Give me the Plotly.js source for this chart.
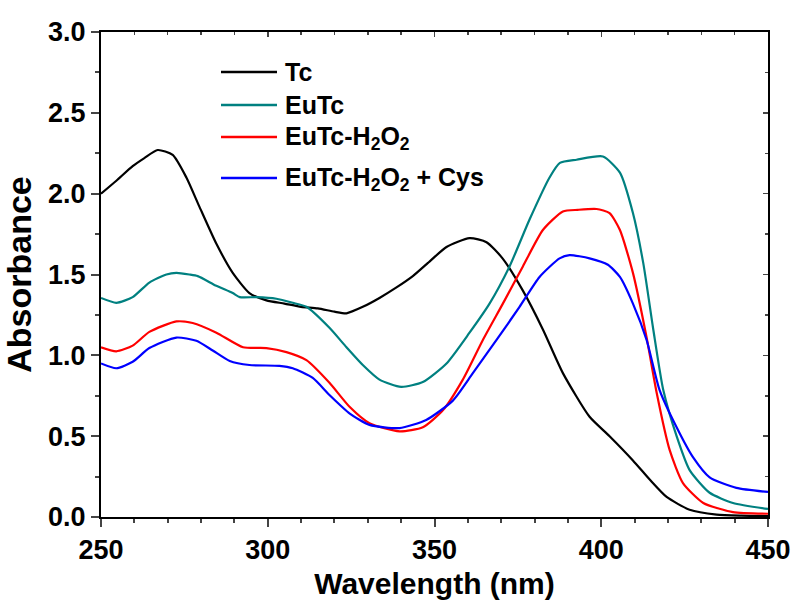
<!DOCTYPE html>
<html>
<head>
<meta charset="utf-8">
<script src="https://cdn.plot.ly/plotly-3.0.1.min.js"></script>
<style>html,body{margin:0;padding:0;background:#fff;}#chart{width:793px;height:610px;}</style>
</head>
<body>
<div id="chart"></div>
<script>
const seriesNames = ["Tc", "EuTc", "EuTc-H<sub>2</sub>O<sub>2</sub>", "EuTc-H<sub>2</sub>O<sub>2</sub> + Cys"];
const seriesColors = ["#000000", "#008080", "#ff0000", "#0000ff"];

const tcWl = [250,254.6,259.5,263,267,271.5,275.6,279.5,284.6,289.5,294.5,299.6,305,310,315,320,323.6,328.5,333.5,338.6,343.5,348.5,353.6,360.5,365.6,370.4,376.5,382.5,388.5,396.5,402.5,409.5,414.6,419.6,426.5,434.6,442,450];
const tcAbs = [2.00,2.08,2.17,2.22,2.27,2.24,2.10,1.92,1.69,1.51,1.385,1.34,1.32,1.30,1.29,1.27,1.26,1.30,1.355,1.42,1.49,1.58,1.67,1.725,1.70,1.60,1.40,1.16,0.89,0.62,0.50,0.35,0.23,0.124,0.045,0.015,0.008,0.005];

const euWl = [250,254.6,259.5,264.5,269.6,272.6,276.5,279,284.6,289.5,291.6,296.6,302.6,307.5,311.6,318.5,323.6,328.5,333.5,340,346.5,353.6,360.5,366.5,372.5,378.5,384.5,387.6,392.6,400.5,405.6,409.5,412.6,415.6,418.6,422.6,426.5,432.5,439.5,450];
const euAbs = [1.355,1.325,1.36,1.45,1.50,1.51,1.50,1.49,1.43,1.385,1.36,1.36,1.35,1.325,1.30,1.17,1.05,0.94,0.85,0.805,0.835,0.95,1.14,1.32,1.55,1.84,2.10,2.19,2.21,2.23,2.13,1.88,1.57,1.16,0.785,0.50,0.29,0.15,0.087,0.05];

const h2o2Wl = [250,254.6,259.5,264.5,272.6,277.5,284.6,292.6,299.6,305.6,311.6,318.5,324.6,330.5,339.5,346.5,352.5,358.5,364.5,370.5,376.5,382.5,388.5,393,398.6,402.5,405.6,409.5,413.6,416.6,420.5,424.5,430.6,439.5,450];
const h2o2Abs = [1.05,1.025,1.06,1.145,1.21,1.20,1.14,1.05,1.045,1.02,0.97,0.83,0.68,0.58,0.53,0.555,0.66,0.85,1.095,1.32,1.55,1.775,1.89,1.90,1.905,1.88,1.775,1.51,1.11,0.77,0.415,0.21,0.087,0.03,0.02];

const cysWl = [250,254.6,259.5,264.5,272.6,278.6,283.5,288.6,294.5,303.5,307.5,313.5,318.5,324.6,330.5,339.5,347.5,355.5,361.5,368.6,375.5,381.5,387.5,390.5,396.5,402,405.6,409.5,413.6,417.5,422.6,427.5,432.5,440.5,450];
const cysAbs = [0.95,0.92,0.96,1.045,1.11,1.09,1.03,0.965,0.94,0.935,0.92,0.86,0.755,0.64,0.57,0.55,0.60,0.72,0.89,1.095,1.30,1.485,1.60,1.62,1.60,1.56,1.485,1.32,1.095,0.785,0.555,0.37,0.245,0.18,0.155];

const xTickVals = [250, 300, 350, 400, 450];
const yTickVals = [0, 0.5, 1.0, 1.5, 2.0, 2.5, 3.0];

const allX = [tcWl, euWl, h2o2Wl, cysWl];
const allY = [tcAbs, euAbs, h2o2Abs, cysAbs];

const FONT = "Liberation Sans, Arial, sans-serif";

const traces = allX.map((xs, i) => ({
  x: xs, y: allY[i], name: seriesNames[i], type: "scatter", mode: "lines",
  line: {color: seriesColors[i], width: 2.2, shape: "spline", smoothing: 0.6},
  hoverinfo: "skip", showlegend: false
}));
traces.push({x: [null], y: [null], xaxis: "x2", yaxis: "y2", showlegend: false, hoverinfo: "skip", mode: "lines"});

// hand-placed legend (plot-area pixels -> paper fractions)
const plotL = 101, plotR = 768, plotT = 32, plotB = 517;
const px = v => (v - plotL) / (plotR - plotL);
const py = v => (plotB - v) / (plotB - plotT);
const legendRowsPx = [72, 105, 137, 178];
const legendShift = [0, 0, -1, -1];
const shapes = [], annotations = [];
seriesNames.forEach((name, i) => {
  shapes.push({type: "line", xref: "paper", yref: "paper", x0: px(221), x1: px(277),
    y0: py(legendRowsPx[i]), y1: py(legendRowsPx[i]), line: {color: seriesColors[i], width: 2.5}});
  annotations.push({xref: "paper", yref: "paper", x: px(283), y: py(legendRowsPx[i]),
    xanchor: "left", yanchor: "middle", yshift: legendShift[i], showarrow: false, text: name,
    font: {family: FONT, size: 25, color: "#000", weight: "bold"}});
});

const layout = {
  width: 793, height: 610,
  margin: {l: 101, r: 25, t: 32, b: 93},
  paper_bgcolor: "#fff", plot_bgcolor: "#fff",
  font: {family: FONT, color: "#000"},
  showlegend: false,
  shapes: shapes,
  annotations: annotations,
  xaxis: {
    range: [250, 450], tickvals: xTickVals, ticks: "outside", ticklen: 8, tickwidth: 2,
    minor: {dtick: 10, ticks: "outside", ticklen: 4, tickwidth: 2, showgrid: false},
    showline: true, linewidth: 2, linecolor: "#000", showgrid: false, zeroline: false,
    tickfont: {family: FONT, size: 27, weight: "bold"},
    title: {text: "Wavelength (nm)", font: {family: FONT, size: 30, weight: "bold"}, standoff: 9}
  },
  yaxis: {
    range: [0, 3], tickvals: yTickVals, tickformat: ".1f", ticks: "outside", ticklen: 8, tickwidth: 2,
    minor: {dtick: 0.25, ticks: "outside", ticklen: 4, tickwidth: 2, showgrid: false},
    showline: true, linewidth: 2, linecolor: "#000", showgrid: false, zeroline: false,
    tickfont: {family: FONT, size: 27, weight: "bold"},
    title: {text: "Absorbance", font: {family: FONT, size: 34, weight: "bold"}, standoff: 8}
  },
  xaxis2: {
    overlaying: "x", side: "top", range: [250, 450], tickvals: xTickVals, ticks: "inside", ticklen: 5, tickwidth: 1.5,
    minor: {dtick: 10, ticks: "inside", ticklen: 3, tickwidth: 1.5},
    showticklabels: false, showline: true, linewidth: 2, linecolor: "#000", showgrid: false, zeroline: false
  },
  yaxis2: {
    overlaying: "y", side: "right", range: [0, 3], tickvals: yTickVals, ticks: "inside", ticklen: 5, tickwidth: 1.5,
    minor: {dtick: 0.25, ticks: "inside", ticklen: 3, tickwidth: 1.5},
    showticklabels: false, showline: true, linewidth: 2, linecolor: "#000", showgrid: false, zeroline: false
  }
};

Plotly.newPlot("chart", traces, layout, {displayModeBar: false, staticPlot: true});
</script>
</body>
</html>
